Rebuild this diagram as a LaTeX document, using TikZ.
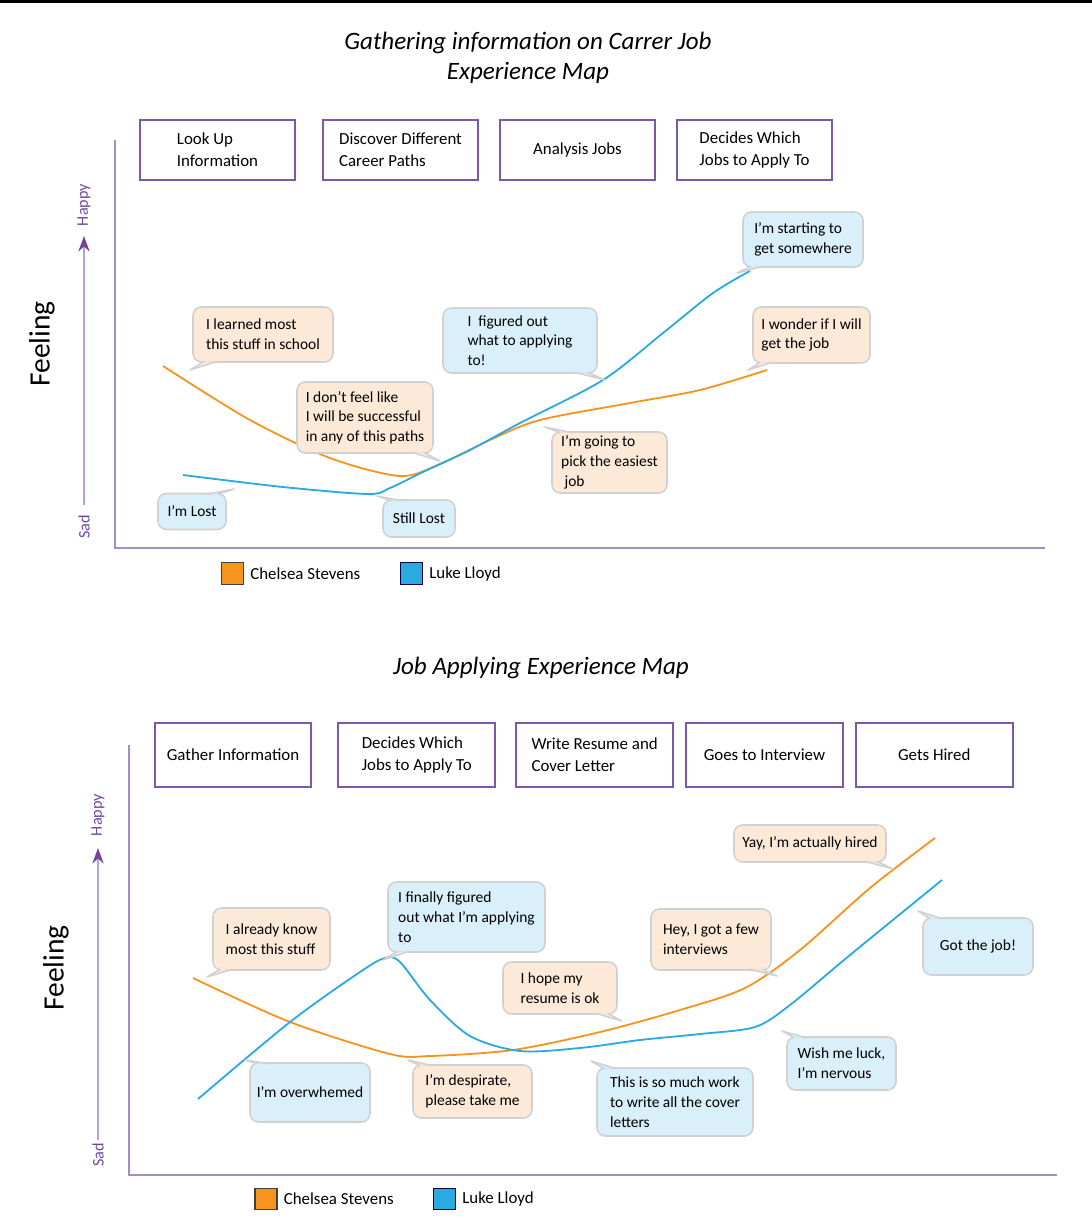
\documentclass[tikz,border=0pt]{standalone}
\usepackage{fontspec}
\setmainfont{Carlito}
\usetikzlibrary{arrows.meta,positioning,calc}

\definecolor{chelsea}{RGB}{247,148,30}
\definecolor{luke}{RGB}{41,171,226}
\definecolor{obg}{RGB}{253,233,216}
\definecolor{lbg}{RGB}{217,239,250}
\definecolor{stageline}{RGB}{125,88,166}
\definecolor{axisline}{RGB}{165,140,198}
\definecolor{moodline}{RGB}{184,161,211}
\definecolor{moodtip}{RGB}{112,70,160}

\tikzset{
  stage/.style={draw=stageline, line width=1.4pt, minimum width=3.875cm,
    minimum height=1.52cm, align=left, font=\fontsize{12}{15.5}\selectfont},
  bub/.style={draw=black!18, line width=1.1pt, rounded corners=6pt,
    align=left, inner sep=0pt, font=\fontsize{11}{14}\selectfont},
  obub/.style={bub, fill=obg},
  lbub/.style={bub, fill=lbg},
  wh/.style 2 args={minimum width=#1*0.025cm, minimum height=#2*0.025cm},
  bubline/.style={draw=black!18, line width=1.1pt, line join=round},
  chelsea line/.style={draw=chelsea, line width=1.3pt},
  luke line/.style={draw=luke, line width=1.3pt},
  axis/.style={draw=axisline, line width=1.5pt},
  mood/.style={draw=moodline, line width=1.6pt,
    -{Stealth[length=11pt, width=8pt, color=moodtip]}},
  moodlbl/.style={rotate=90, text=moodtip, font=\fontsize{11.5}{12}\selectfont},
  feel/.style={rotate=90, font=\fontsize{21}{24}\selectfont},
  maptitle/.style={align=center, font=\fontsize{17.8}{21}\selectfont\itshape},
  lgsq/.style={draw=black!75, line width=0.8pt, minimum width=0.55cm,
    minimum height=0.53cm, inner sep=0pt},
  lgtxt/.style={font=\fontsize{12}{14}\selectfont, inner sep=0pt}
}

% tail of a speech bubble: colour, anchor, two offsets, tip
\newcommand{\saytail}[5]{%
  \fill[#1] ($(#2)+(#3)$) -- #5 -- ($(#2)+(#4)$) -- cycle;
  \draw[bubline] ($(#2)+(#3)$) -- #5 -- ($(#2)+(#4)$);}

\begin{document}
\begin{tikzpicture}[x=0.025cm, y=-0.025cm]
  \useasboundingbox (0,0) rectangle (1092,1224);
  \fill (0,0) rectangle (1092,2.5);

  %% first map
  \node[maptitle] (t1) at (528,58) {Gathering information on Carrer Job\\Experience Map};

  \node[stage] (s1) at (217.5,150) {Look Up\\Information};
  \node[stage, right=0.65cm of s1]  (s2) {Discover Different\\Career Paths};
  \node[stage, right=0.5cm of s2]   (s3) {Analysis Jobs};
  \node[stage, right=0.5cm of s3]   (s4) {Decides Which\\Jobs to Apply To};

  \coordinate (o1) at (115,548);
  \draw[axis] (115,140) -- (o1) -- (1045,548);
  \coordinate (sad1) at (84,505);
  \coordinate (happy1) at (84,236);
  \draw[mood] (sad1) -- (happy1);
  \node[moodlbl] (h1) at (84,205) {Happy};
  \node[moodlbl] (d1) at (84,527) {Sad};
  \node[feel] (f1) at (42,344) {Feeling};

  \draw[chelsea line] plot[smooth, tension=0.5] coordinates {(163,366) (250,420)
    (330,458) (400,476) (440,464) (490,440) (540,420) (630,403) (700,390) (767,370)};
  \draw[luke line] plot[smooth, tension=0.5] coordinates {(183,475) (283,487)
    (368,494) (390,488) (423,472) (470,450) (520,423) (603,380) (663,333) (713,293) (750,271)};

  \node[obub, wh={140}{55}] (tb1) at (263,334.5) {I learned most\\this stuff in school};
  \saytail{obg}{tb1.south west}{12,-1.5}{25,-1.5}{(190,370)}
  \node[obub, wh={136}{71}] (tb2) at (365,417.5) {I don't feel like\\I will be successful\\in any of this paths};
  \saytail{obg}{tb2.south east}{-22,-1.5}{-10,-1.5}{(440,461)}
  \node[lbub, wh={68}{36}] (tb3) at (192,511.5) {I'm Lost};
  \saytail{lbg}{tb3.north east}{-20,1.5}{-9,1.5}{(234,489)}
  \node[lbub, wh={72}{37}] (tb4) at (419,518.5) {Still Lost};
  \saytail{lbg}{tb4.north west}{9,1.5}{20,1.5}{(377,496)}
  \node[lbub, wh={154}{65}] (tb5) at (520,340.5) {I\ \ figured out\\what to applying\\to!};
  \saytail{lbg}{tb5.south east}{-23,-1.5}{-10,-1.5}{(605,380)}
  \node[obub, wh={115}{61}] (tb6) at (609.5,462.5) {I'm going to\\pick the easiest\\\ job};
  \saytail{obg}{tb6.north west}{9,1.5}{21,1.5}{(545,427)}
  \node[lbub, wh={120}{55}] (tb7) at (803,239.5) {I'm starting to\\get somewhere};
  \saytail{lbg}{tb7.south west}{9,-1.5}{21,-1.5}{(737,273)}
  \node[obub, wh={117}{56}] (tb8) at (811.5,335) {I wonder if I will\\get the job};
  \saytail{obg}{tb8.south west}{8,-1.5}{20,-1.5}{(748,370)}

  \node[lgsq, fill=chelsea] (lc1) at (232.5,573.5) {};
  \node[lgtxt, right=0.15cm of lc1] (nc1) {Chelsea Stevens};
  \node[lgsq, fill=luke, draw=blue!30!black] (ll1) at (411.5,573.5) {};
  \node[lgtxt, right=0.15cm of ll1] (nl1) {Luke Lloyd};

  %% second map
  \node[maptitle] (t2) at (541,668) {Job Applying Experience Map};

  \node[stage, minimum width=3.92cm, minimum height=1.62cm] (g1) at (233,755) {Gather Information};
  \node[stage, minimum width=3.92cm, minimum height=1.62cm, right=0.625cm of g1] (g2) {Decides Which\\Jobs to Apply To};
  \node[stage, minimum width=3.92cm, minimum height=1.62cm, right=0.475cm of g2] (g3) {Write Resume and\\Cover Letter};
  \node[stage, minimum width=3.92cm, minimum height=1.62cm, right=0.275cm of g3] (g4) {Goes to Interview};
  \node[stage, minimum width=3.92cm, minimum height=1.62cm, right=0.275cm of g4] (g5) {Gets Hired};

  \coordinate (o2) at (129,1175);
  \draw[axis] (129,745) -- (o2) -- (1057,1175);
  \coordinate (sad2) at (98,1140);
  \coordinate (happy2) at (98,848);
  \draw[mood] (sad2) -- (happy2);
  \node[moodlbl] (h2) at (98,815) {Happy};
  \node[moodlbl] (d2) at (98,1155) {Sad};
  \node[feel] (f2) at (56,968) {Feeling};

  \draw[chelsea line] plot[smooth, tension=0.5] coordinates {(193,978) (290,1022)
    (390,1054) (430,1056) (513,1050) (600,1032) (680,1010) (745,988) (800,950)
    (870,888) (935,838)};
  \draw[luke line] plot[smooth, tension=0.5] coordinates {(198,1099) (290,1022)
    (360,972) (385,958) (400,962) (430,1000) (470,1036) (520,1051) (580,1048)
    (640,1040) (700,1034) (755,1027) (790,1005) (850,955) (942,880)};

  \node[obub, wh={117}{62}] (bb1) at (271.5,939) {I already know\\most this stuff};
  \saytail{obg}{bb1.south west}{8,-1.5}{20,-1.5}{(207,977)}
  \node[lbub, wh={157}{70}] (bb2) at (466.5,917) {I finally figured\\out what I'm applying\\to};
  \saytail{lbg}{bb2.south west}{10,-1.5}{22,-1.5}{(383,960)}
  \node[obub, wh={114}{52}] (bb3) at (560,988) {I hope my\\resume is ok};
  \saytail{obg}{bb3.south east}{-22,-1.5}{-10,-1.5}{(622,1021)}
  \node[obub, wh={120}{61}] (bb4) at (711,939.5) {Hey, I got a few\\interviews};
  \saytail{obg}{bb4.south east}{-22,-1.5}{-10,-1.5}{(777,976)}
  \node[obub, wh={152}{37}] (bb5) at (810,843.5) {Yay, I'm actually hired};
  \saytail{obg}{bb5.south east}{-22,-1.5}{-10,-1.5}{(893,869)}
  \node[lbub, wh={110}{57}] (bb6) at (978,946.5) {Got the job!};
  \saytail{lbg}{bb6.north west}{8,1.5}{20,1.5}{(918,911)}
  \node[lbub, wh={120}{59}] (bb7) at (310,1092.5) {I'm overwhemed};
  \saytail{lbg}{bb7.north west}{8,1.5}{20,1.5}{(245,1060)}
  \node[obub, wh={119}{53}] (bb8) at (472.5,1091.5) {I'm despirate,\\please take me};
  \saytail{obg}{bb8.north west}{8,1.5}{20,1.5}{(408,1060)}
  \node[lbub, wh={156}{68}] (bb9) at (675,1102) {This is so much work\\to write all the cover\\letters};
  \saytail{lbg}{bb9.north west}{8,1.5}{20,1.5}{(591,1061)}
  \node[lbub, wh={109}{53}] (bb10) at (841.5,1063.5) {Wish me luck,\\I'm nervous};
  \saytail{lbg}{bb10.north west}{8,1.5}{20,1.5}{(782,1031)}

  \node[lgsq, fill=chelsea] (lc2) at (266,1199) {};
  \node[lgtxt, right=0.15cm of lc2] (nc2) {Chelsea Stevens};
  \node[lgsq, fill=luke, draw=blue!30!black] (ll2) at (444.5,1199) {};
  \node[lgtxt, right=0.15cm of ll2] (nl2) {Luke Lloyd};
\end{tikzpicture}
\end{document}
